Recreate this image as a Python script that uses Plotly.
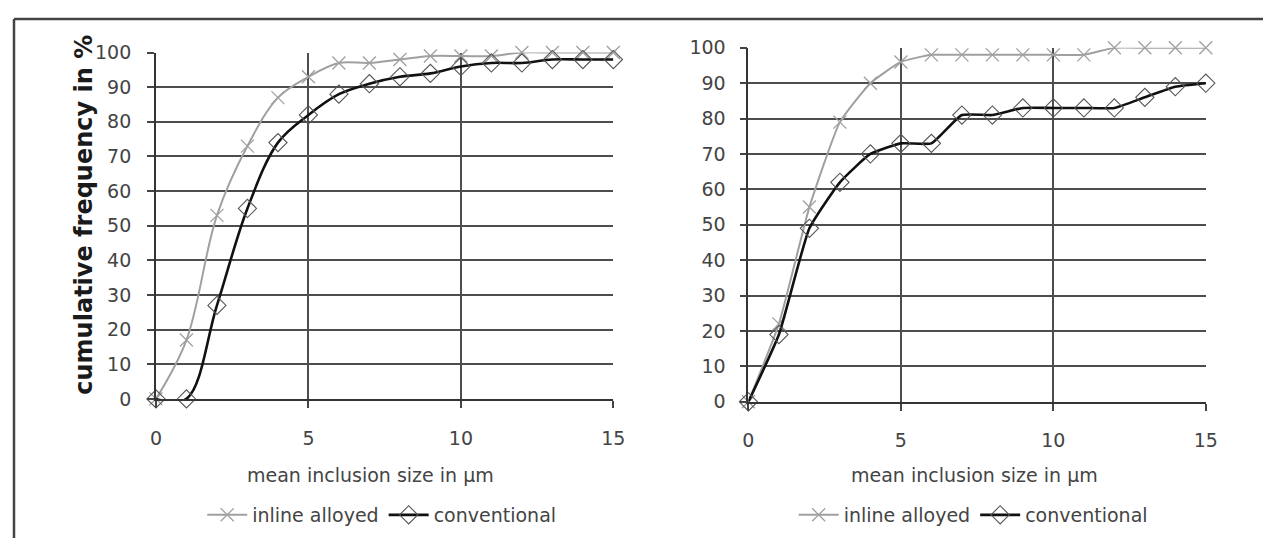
import plotly.graph_objects as go

x_vals = list(range(16))

left_inline = [0, 17, 53, 73, 87, 93, 97, 97, 98, 99, 99, 99, 100, 100, 100, 100]
left_conv = [0, 0, 27, 55, 74, 82, 88, 91, 93, 94, 96, 97, 97, 98, 98, 98]

right_inline = [0, 22, 55, 79, 90, 96, 98, 98, 98, 98, 98, 98, 100, 100, 100, 100]
right_conv = [0, 19, 49, 62, 70, 73, 73, 81, 81, 83, 83, 83, 83, 86, 89, 90]

series_names = ["inline alloyed", "conventional"]
x_ticks = [0, 5, 10, 15]
y_ticks = list(range(0, 101, 10))
x_title = "mean inclusion size in µm"
y_title = "cumulative frequency in %"

# page has an 8px body margin; figure fills the rest of the 1283x557 window
OFF = 8
W, H = 1283 - 2 * OFF, 557 - 2 * OFF
def px(v): return (v - OFF) / W
def py(v): return 1 - (v - OFF) / H

GRAY = "#a0a0a0"
BLACK = "#111111"
FONT = "DejaVu Sans, sans-serif"
TXT = "#444444"

fig = go.Figure()

def add_pair(xa, ya, inline, conv, legend, smooth):
    fig.add_trace(go.Scatter(
        x=x_vals, y=inline, name=series_names[0], mode="lines+markers",
        xaxis=xa, yaxis=ya, legend=legend,
        line=dict(color=GRAY, width=2, shape="spline", smoothing=smooth),
        marker=dict(symbol="x-thin-open", size=13, color=GRAY,
                    line=dict(color=GRAY, width=1.3)),
        cliponaxis=False))
    fig.add_trace(go.Scatter(
        x=x_vals, y=conv, name=series_names[1], mode="lines+markers",
        xaxis=xa, yaxis=ya, legend=legend,
        line=dict(color=BLACK, width=2.6, shape="spline", smoothing=smooth),
        marker=dict(symbol="diamond-open", size=14, color="#555",
                    line=dict(color="#555", width=1.1)),
        cliponaxis=False))

add_pair("x", "y", left_inline, left_conv, "legend", 1.0)
add_pair("x2", "y2", right_inline, right_conv, "legend2", 0.45)

axis_common = dict(
    showline=True, linecolor="#333", linewidth=1.8,
    gridcolor="#4d4d4d", gridwidth=1.6, zeroline=False,
    ticks="outside", ticklen=7, tickcolor="#444", tickwidth=1.5,
    tickfont=dict(family=FONT, size=19, color=TXT),
    fixedrange=True,
)

legend_common = dict(orientation="h", yanchor="middle", xanchor="center",
                     font=dict(family=FONT, size=19, color=TXT), itemwidth=40,
                     bgcolor="rgba(0,0,0,0)", tracegroupgap=0)

fig.update_layout(
    width=W, height=H,
    margin=dict(l=0, r=0, t=0, b=0),
    paper_bgcolor="white", plot_bgcolor="white",
    font=dict(family=FONT, color=TXT),
    xaxis=dict(domain=[px(152), px(616)], range=[0, 15], tickvals=x_ticks,
               anchor="y", ticklabelstandoff=14, **axis_common),
    yaxis=dict(domain=[py(404), py(43)], range=[0, 100], tickvals=y_ticks,
               anchor="x", ticklabelstandoff=12, **axis_common),
    xaxis2=dict(domain=[px(753), px(1217)], range=[0, 15], tickvals=x_ticks,
                anchor="y2", ticklabelstandoff=14, **axis_common),
    yaxis2=dict(domain=[py(407), py(38)], range=[0, 100], tickvals=y_ticks,
                anchor="x2", ticklabelstandoff=10, **axis_common),
    legend=dict(x=px(381), y=py(525), **legend_common),
    legend2=dict(x=px(981), y=py(525), **legend_common),
    showlegend=True,
    shapes=[
        dict(type="line", xref="paper", yref="paper",
             x0=0, x1=1, y0=1, y1=1,
             line=dict(color="#444", width=2.5)),
        dict(type="line", xref="paper", yref="paper",
             x0=0, x1=0, y0=1, y1=0,
             line=dict(color="#444", width=2.5)),
    ],
    annotations=[
        dict(text=x_title, xref="paper", yref="paper", x=px(370), y=py(483),
             xanchor="center", yanchor="middle",
             showarrow=False, font=dict(family=FONT, size=19, color=TXT)),
        dict(text=x_title, xref="paper", yref="paper", x=px(982), y=py(483),
             xanchor="center", yanchor="middle",
             showarrow=False, font=dict(family=FONT, size=19, color=TXT)),
        dict(text="<b>" + y_title + "</b>", xref="paper", yref="paper",
             x=px(79), y=py(212), xanchor="center", yanchor="middle",
             textangle=-90, showarrow=False,
             font=dict(family=FONT, size=24, color="#1a1a1a")),
    ],
)

fig.write_html("out.html", config={"displayModeBar": False})
